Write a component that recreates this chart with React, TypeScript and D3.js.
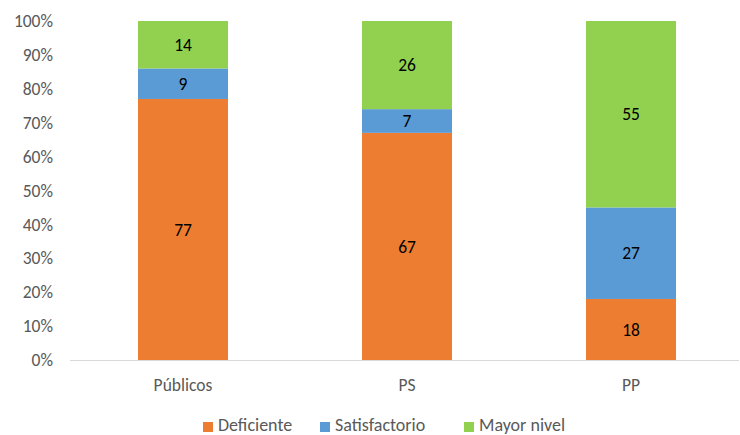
import React from "react";
import * as d3 from "d3";

const categories = ["Públicos", "PS", "PP"];
const seriesNames = ["Deficiente", "Satisfactorio", "Mayor nivel"];
const deficiente = [77, 67, 18];
const satisfactorio = [9, 7, 27];
const mayorNivel = [14, 26, 55];
const yTicks = [0, 10, 20, 30, 40, 50, 60, 70, 80, 90, 100];
const colors = ["#ED7D31", "#5B9BD5", "#92D050"];

const W = 740, H = 435;
const font = "Carlito, Calibri, 'Open Sans', sans-serif";
const fs = 17.5;

export default function App() {
  const x = d3.scaleBand().domain(categories).range([71, 743]).paddingInner(0.6).paddingOuter(0.3);
  const y = d3.scaleLinear().domain([0, 100]).range([360, 21]);
  const rows = categories.map((c, i) => ({ cat: c, d0: deficiente[i], d1: satisfactorio[i], d2: mayorNivel[i] }));
  const stack = d3.stack<any>().keys(["d0", "d1", "d2"])(rows);
  const bw = 90;
  const legendX = [203, 320, 464];
  return (
    <svg width={W} height={H} style={{ position: "absolute", left: 0, top: 0, background: "#fff" }}>
      <rect x={0} y={0} width={W} height={H} fill="#fff" />
      {yTicks.map((t) => (
        <text key={t} x={53} y={y(t)} dy="0.35em" textAnchor="end" fontSize={fs} fill="#595959" fontFamily={font}>
          {t}%
        </text>
      ))}
      <line x1={70} x2={739} y1={360.5} y2={360.5} stroke="#D9D9D9" strokeWidth={1} />
      {stack.map((s, si) =>
        s.map((d, i) => {
          const cx = (x(categories[i]) as number) + x.bandwidth() / 2;
          const y0 = y(d[0]), y1 = y(d[1]);
          const v = d[1] - d[0];
          return (
            <g key={si + "-" + i}>
              <rect x={cx - bw / 2} y={y1} width={bw} height={y0 - y1} fill={colors[si]} />
              <text x={cx} y={(y0 + y1) / 2} dy="0.35em" textAnchor="middle" fontSize={fs} fill="#000" fontFamily={font}>
                {v}
              </text>
            </g>
          );
        })
      )}
      {categories.map((c) => (
        <text key={c} x={(x(c) as number) + x.bandwidth() / 2} y={385} dy="0.35em" textAnchor="middle" fontSize={fs} fill="#595959" fontFamily={font}>
          {c}
        </text>
      ))}
      {seriesNames.map((n, i) => (
        <g key={n}>
          <rect x={legendX[i]} y={422} width={10} height={10} fill={colors[i]} />
          <text x={legendX[i] + 15} y={425} dy="0.35em" fontSize={18} fill="#595959" fontFamily={font}>
            {n}
          </text>
        </g>
      ))}
    </svg>
  );
}
